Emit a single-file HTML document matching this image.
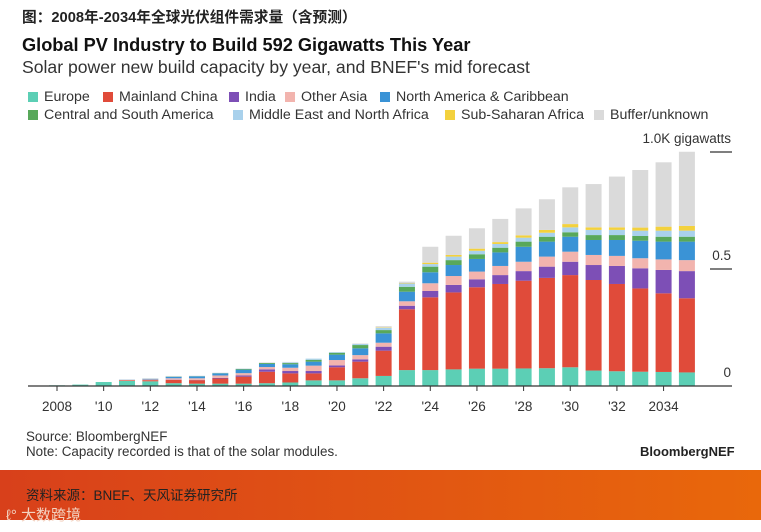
<!DOCTYPE html>
<html><head><meta charset="utf-8">
<style>
body{margin:0;width:761px;height:532px;background:#fff;overflow:hidden;font-family:"Liberation Sans","Noto Sans CJK SC",sans-serif;position:relative}
.t{position:absolute;white-space:nowrap}
.lg{position:absolute;font-size:14.2px;color:#333;white-space:nowrap}
.sw{display:inline-block;width:10px;height:10px;margin-right:6px;vertical-align:-1px}
</style></head><body>
<div class="t" style="left:22px;top:6px;font-size:14.7px;font-weight:bold;color:#222;font-family:'Liberation Sans','Noto Sans CJK SC',sans-serif">图：2008年-2034年全球光伏组件需求量（含预测）</div>
<div class="t" style="left:22px;top:35px;font-size:18.2px;font-weight:bold;color:#111">Global PV Industry to Build 592 Gigawatts This Year</div>
<div class="t" style="left:22px;top:57px;font-size:17.6px;color:#333">Solar power new build capacity by year, and BNEF's mid forecast</div>
<div id="legend"></div>
<svg id="chart" width="761" height="532" style="position:absolute;left:0;top:0"></svg>
<div class="t" style="left:26px;top:429px;font-size:13.4px;color:#333">Source: BloombergNEF</div>
<div class="t" style="left:26px;top:444px;font-size:13.4px;color:#333">Note: Capacity recorded is that of the solar modules.</div>
<div class="t" style="left:640px;top:444px;font-size:13px;font-weight:bold;color:#222">BloombergNEF</div>
<div style="position:absolute;left:0;top:470px;width:761px;height:50px;background:linear-gradient(90deg,#d8401b,#e9680b)"></div>
<div class="t" style="left:26px;top:484px;font-size:13.5px;color:#222">资料来源：BNEF、天风证券研究所</div>
<div class="t" style="left:6px;top:504px;font-size:15px;color:#f3d2c0">ℓ° 大数跨境</div>
<script>
const years=[2008,2009,2010,2011,2012,2013,2014,2015,2016,2017,2018,2019,2020,2021,2022,2023,2024,2025,2026,2027,2028,2029,2030,2031,2032,2033,2034,2035];
const seriesNames=["Europe","Mainland China","India","Other Asia","North America & Caribbean","Central and South America","Middle East and North Africa","Sub-Saharan Africa","Buffer/unknown"];
const colors=["#5ccfb5","#e04b3a","#7d4fb6","#f2b4ae","#3a93d6","#58a85a","#a9d1ec","#f3d13d","#dadada"];
const europe=[.003,.006,.017,.022,.02,.012,.01,.01,.01,.012,.015,.024,.024,.033,.043,.068,.068,.071,.074,.074,.075,.076,.08,.066,.063,.061,.06,.058];
const china=[0,0,0,.003,.005,.014,.015,.022,.03,.049,.039,.03,.056,.071,.108,.26,.311,.329,.348,.362,.375,.386,.394,.387,.373,.356,.336,.317];
const india=[0,0,0,0,0,.001,.001,.003,.005,.01,.01,.01,.008,.01,.017,.015,.027,.032,.034,.038,.041,.048,.057,.064,.077,.086,.1,.116];
const otherAsia=[0,0,0,.001,.003,.006,.007,.01,.01,.01,.014,.023,.023,.018,.017,.019,.033,.038,.033,.039,.04,.043,.043,.043,.043,.043,.045,.047];
const northAmerica=[0,0,0,.001,.003,.006,.008,.009,.015,.013,.015,.017,.023,.029,.04,.041,.047,.047,.054,.058,.064,.064,.064,.064,.068,.075,.076,.079];
const centralSouth=[0,0,0,0,0,.001,.001,.001,.003,.004,.005,.008,.008,.014,.014,.021,.024,.021,.02,.02,.022,.021,.019,.021,.021,.02,.021,.021];
const mena=[0,0,0,0,0,.001,.001,.001,.001,.001,.003,.005,.003,.005,.01,.014,.011,.015,.015,.016,.017,.017,.021,.022,.022,.023,.026,.026];
const ssa=[0,0,0,0,0,0,0,0,0,0,0,0,0,0,.002,.002,.006,.007,.009,.008,.01,.012,.014,.011,.011,.013,.017,.02];
const buffer=[0,0,0,.001,.002,.002,.001,.001,.001,.002,.002,0,0,.002,.005,.006,.068,.082,.087,.099,.115,.131,.157,.185,.217,.246,.275,.317];
const xTicks=[2008,2010,2012,2014,2016,2018,2020,2022,2024,2026,2028,2030,2032,2034];
const xTickLabels=["2008","'10","'12","'14","'16","'18","'20","'22","'24","'26","'28","'30","'32","2034"];
const yTicks=[0,0.5,1.0];
const yTickLabels=["0","0.5","1.0K gigawatts"];
const series=[europe,china,india,otherAsia,northAmerica,centralSouth,mena,ssa,buffer];
const x=y=>57+(y-2008)*23.33;
const yS=v=>386-v*234;
const NS="http://www.w3.org/2000/svg";
const svg=document.getElementById('chart');
function mk(t,a){const e=document.createElementNS(NS,t);for(const k in a)e.setAttribute(k,a[k]);svg.appendChild(e);return e;}
years.forEach((yr,i)=>{let c=0;series.forEach((s,j)=>{const v=s[i];if(v<=0)return;const r=mk('rect',{x:x(yr)-8,y:yS(c+v),width:16,height:yS(c)-yS(c+v),fill:colors[j]});


c+=v;});});
const ax=mk('line',{x1:28,x2:732,y1:386,y2:386,stroke:'#333','stroke-width':1.2});


xTicks.forEach((t,i)=>{const l=mk('line',{x1:x(t),x2:x(t),y1:386,y2:391,stroke:'#333'});


const tx=mk('text',{x:x(t),y:411,'text-anchor':'middle','font-size':13.5,fill:'#333','font-family':'Liberation Sans'});tx.textContent=xTickLabels[i];

});
yTicks.forEach((t,i)=>{if(t>0){const l=mk('line',{x1:710,x2:732,y1:yS(t),y2:yS(t),stroke:'#333','stroke-width':1.2});

}
const tx=mk('text',{x:731,y:yS(t)-9,'text-anchor':'end','font-size':13.5,fill:'#333','font-family':'Liberation Sans'});tx.textContent=yTickLabels[i];

});
const lg=document.getElementById('legend');
const pos=[[28,89],[103,89],[229,89],[285,89],[380,89],[28,107],[233,107],[445,107],[594,107]];
seriesNames.forEach((n,i)=>{const d=document.createElement('div');d.className='lg';d.style.left=pos[i][0]+'px';d.style.top=pos[i][1]+'px';
d.innerHTML='<span class="sw" style="background:'+colors[i]+'"></span>'+n.replace('&','&amp;');


lg.appendChild(d);});
</script>
</body></html>
